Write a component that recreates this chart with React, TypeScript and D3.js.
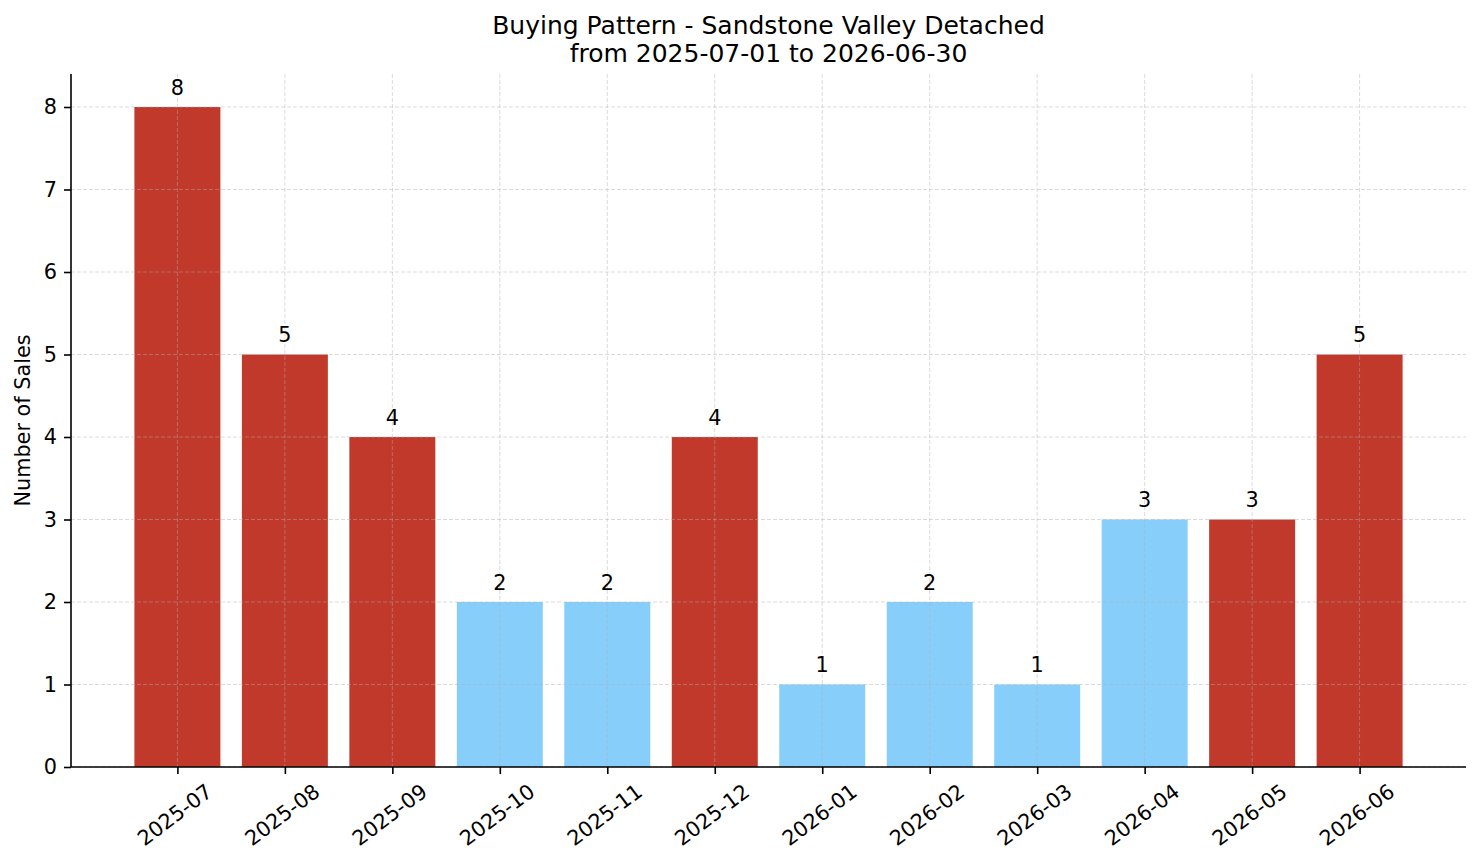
import { useEffect, useRef } from "react";
import * as d3 from "d3";

const months = [
  "2025-07", "2025-08", "2025-09", "2025-10", "2025-11", "2025-12",
  "2026-01", "2026-02", "2026-03", "2026-04", "2026-05", "2026-06",
];
const sales = [8, 5, 4, 2, 2, 4, 1, 2, 1, 3, 3, 5];
const barColors = [
  "#C0392B", "#C0392B", "#C0392B", "#87CEFA", "#87CEFA", "#C0392B",
  "#87CEFA", "#87CEFA", "#87CEFA", "#87CEFA", "#C0392B", "#C0392B",
];
const yTicks = [0, 1, 2, 3, 4, 5, 6, 7, 8];
const titleLines = ["Buying Pattern - Sandstone Valley Detached", "from 2025-07-01 to 2026-06-30"];

const App = () => {
  const svgRef = useRef<SVGSVGElement | null>(null);

  useEffect(() => {
    const width = 1481;
    const height = 863;
    const margin = { top: 74, right: 15, bottom: 96, left: 71 };
    const innerWidth = width - margin.left - margin.right;
    const innerHeight = height - margin.top - margin.bottom;
    const font = "DejaVu Sans, sans-serif";
    const fs = 20.8;

    const svg = d3.select(svgRef.current);
    svg.selectAll("*").remove();

    const g = svg.append("g").attr("transform", `translate(${margin.left}, ${margin.top})`);

    // index positions, matplotlib-like margins around bars of width 0.8
    const n = months.length;
    const pad = (n - 1 + 0.8) * 0.05;
    const xScale = d3.scaleLinear().domain([-0.4 - pad, n - 1 + 0.4 + pad]).range([0, innerWidth]);
    const yScale = d3.scaleLinear().domain([0, 8.4]).range([innerHeight, 0]);

    // bars
    g.selectAll("rect.bar")
      .data(sales)
      .join("rect")
      .attr("class", "bar")
      .attr("x", (_, i) => xScale(i - 0.4))
      .attr("width", xScale(0.8) - xScale(0))
      .attr("y", (d) => yScale(d))
      .attr("height", (d) => innerHeight - yScale(d))
      .attr("fill", (_, i) => barColors[i]);

    // grid on top of bars
    const grid = g.append("g").attr("stroke", "#b0b0b0").attr("stroke-opacity", 0.5)
      .attr("stroke-width", 0.9).attr("stroke-dasharray", "4,2");
    grid.selectAll("line.h")
      .data(yTicks)
      .join("line")
      .attr("class", "h")
      .attr("x1", 0).attr("x2", innerWidth)
      .attr("y1", (d) => yScale(d)).attr("y2", (d) => yScale(d));
    grid.selectAll("line.v")
      .data(months)
      .join("line")
      .attr("class", "v")
      .attr("x1", (_, i) => xScale(i)).attr("x2", (_, i) => xScale(i))
      .attr("y1", 0).attr("y2", innerHeight);

    // value labels
    g.selectAll("text.val")
      .data(sales)
      .join("text")
      .attr("class", "val")
      .attr("x", (_, i) => xScale(i))
      .attr("y", (d) => yScale(d + 0.1) - 4)
      .attr("text-anchor", "middle")
      .attr("font-family", font)
      .attr("font-size", fs)
      .attr("fill", "#000")
      .text((d) => d);

    // y axis
    const yAxis = g.append("g")
      .call(d3.axisLeft(yScale).tickValues(yTicks).tickFormat(d3.format("d")).tickSize(7).tickPadding(7));
    yAxis.select(".domain").attr("stroke", "#000").attr("stroke-width", 1.6).attr("d", `M0,${innerHeight}V0`);
    yAxis.selectAll(".tick line").attr("stroke", "#000").attr("stroke-width", 1.6);
    yAxis.selectAll("text").attr("font-family", font).attr("font-size", fs).attr("fill", "#000");

    // x axis
    const xAxis = g.append("g")
      .attr("transform", `translate(0, ${innerHeight})`)
      .call(d3.axisBottom(xScale).tickValues(d3.range(n)).tickFormat((d) => months[d as number]).tickSize(7));
    xAxis.select(".domain").attr("stroke", "#000").attr("stroke-width", 1.6).attr("d", `M0,0H${innerWidth}`);
    xAxis.selectAll(".tick line").attr("stroke", "#000").attr("stroke-width", 1.6);
    xAxis.selectAll("text")
      .attr("font-family", font)
      .attr("font-size", fs)
      .attr("fill", "#000")
      .attr("y", 0)
      .attr("dy", null)
      .attr("dominant-baseline", "central")
      .attr("text-anchor", "middle")
      .attr("transform", "translate(-3, 48) rotate(-37)");

    // y label
    svg.append("text")
      .attr("transform", `translate(30, ${margin.top + innerHeight / 2}) rotate(-90)`)
      .attr("text-anchor", "middle")
      .attr("font-family", font)
      .attr("font-size", fs)
      .attr("fill", "#000")
      .text("Number of Sales");

    // title
    svg.selectAll("text.title")
      .data(titleLines)
      .join("text")
      .attr("class", "title")
      .attr("x", margin.left + innerWidth / 2)
      .attr("y", (_, i) => 34 + i * 27.5)
      .attr("text-anchor", "middle")
      .attr("font-family", font)
      .attr("font-size", 25)
      .attr("fill", "#000")
      .text((d) => d);
  }, []);

  return (
    <svg
      ref={svgRef}
      width={1481}
      height={863}
      style={{ position: "absolute", left: 0, top: 0, background: "#fff" }}
    />
  );
};

export default App;
